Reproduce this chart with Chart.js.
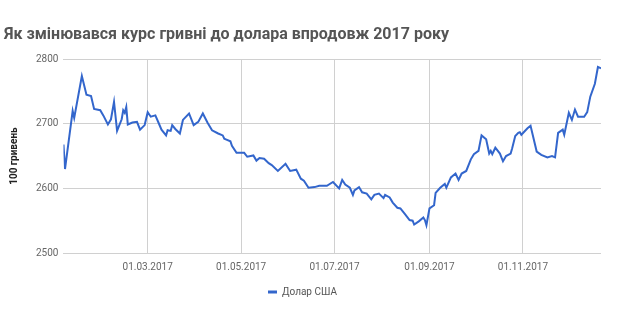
<!DOCTYPE html>
<html lang="uk">
<head>
    <meta charset="UTF-8">
    <title>Курс гривні 2017</title>
    <style>
        html, body {
            margin: 0;
            padding: 0;
            background: #fff;
        }
        .wrap {
            width: 621px;
            height: 315px;
        }
    </style>
</head>
<body>
    <div class="wrap">
        <canvas id="rateChart"></canvas>
    </div>

    <script src="https://cdn.jsdelivr.net/npm/chart.js"></script>
    <script>
        const year = 2017;

        // дати курсу (ДД.ММ) і значення за 100 доларів США
        const dates = [
            '05.01','06.01','11.01','12.01','17.01','20.01','23.01','25.01','29.01','31.01',
            '03.02','05.02','07.02','09.02','12.02','13.02','14.02','15.02','16.02','19.02',
            '22.02','24.02','27.02','01.03','03.03','06.03','08.03','10.03','13.03','14.03',
            '16.03','17.03','19.03','22.03','24.03','28.03','31.03','03.04','06.04','09.04',
            '12.04','16.04','19.04','20.04','21.04','24.04','25.04','28.04','03.05','05.05',
            '09.05','11.05','13.05','16.05','19.05','21.05','25.05','30.05','02.06','06.06',
            '09.06','11.06','14.06','18.06','21.06','26.06','30.06','04.07','06.07','08.07',
            '11.07','13.07','14.07','17.07','19.07','22.07','25.07','27.07','30.07','02.08',
            '03.08','06.08','08.08','11.08','13.08','16.08','19.08','21.08','22.08','25.08',
            '28.08','29.08','30.08','01.09','04.09','05.09','08.09','11.09','12.09','15.09',
            '18.09','20.09','22.09','25.09','28.09','30.09','03.10','05.10','08.10','10.10',
            '11.10','12.10','14.10','17.10','19.10','21.10','24.10','25.10','27.10','29.10',
            '30.10','31.10','02.11','04.11','06.11','10.11','13.11','17.11','20.11','22.11',
            '24.11','27.11','28.11','01.12','03.12','05.12','07.12','11.12','13.12','15.12',
            '18.12','20.12','22.12'
        ];
        const usdRate = [
            2668,2630,2720,2709,2774,2745,2743,2723,2721,2713,
            2699,2707,2734,2689,2707,2721,2717,2726,2699,2702,
            2703,2691,2698,2718,2711,2713,2702,2691,2682,2690,
            2689,2698,2692,2685,2706,2716,2698,2703,2716,2702,
            2690,2685,2682,2677,2676,2673,2666,2655,2655,2649,
            2651,2643,2647,2646,2639,2636,2627,2638,2627,2629,
            2615,2612,2601,2602,2604,2604,2610,2600,2613,2606,
            2601,2590,2597,2602,2594,2592,2583,2590,2592,2585,
            2590,2586,2578,2570,2569,2560,2551,2550,2544,2549,
            2555,2551,2543,2569,2574,2593,2601,2607,2601,2617,
            2623,2613,2623,2627,2645,2653,2658,2682,2676,2654,
            2658,2653,2663,2654,2642,2650,2654,2662,2681,2686,
            2687,2683,2688,2693,2697,2657,2652,2648,2650,2648,
            2686,2691,2683,2717,2706,2722,2711,2711,2718,2742,
            2762,2788,2786
        ];
        const xTickLabels = ['01.03.2017', '01.05.2017', '01.07.2017', '01.09.2017', '01.11.2017'];
        const yTicks = [2500, 2600, 2700, 2800];

        // номер дня в році з рядка "ДД.ММ"
        function dayOfYear(s) {
            const [d, m] = s.split('.').map(Number);
            return (Date.UTC(year, m - 1, d) - Date.UTC(year, 0, 1)) / 864e5;
        }

        function dayLabel(n) {
            const dt = new Date(Date.UTC(year, 0, 1) + n * 864e5);
            const dd = String(dt.getUTCDate()).padStart(2, '0');
            const mm = String(dt.getUTCMonth() + 1).padStart(2, '0');
            return dd + '.' + mm + '.' + dt.getUTCFullYear();
        }

        const points = dates.map((s, i) => ({ x: dayOfYear(s), y: usdRate[i] }));
        const xTickDays = xTickLabels.map(dayOfYear);

        Chart.defaults.font.family = 'Roboto, "Noto Sans", sans-serif';

        const ctx = document.getElementById('rateChart').getContext('2d');
        const rateChart = new Chart(ctx, {
            type: 'line',
            data: {
                datasets: [{
                    label: 'Долар США',
                    data: points,
                    borderColor: '#3366cc',
                    backgroundColor: '#3366cc',
                    borderWidth: 2,
                    pointRadius: 0,
                    tension: 0,
                    fill: false
                }]
            },
            options: {
                responsive: true,
                maintainAspectRatio: false,
                animation: false,
                layout: {
                    padding: { left: 4, right: 20, top: 0, bottom: 8 }
                },
                scales: {
                    x: {
                        type: 'linear',
                        min: points[0].x,
                        max: points[points.length - 1].x,
                        afterBuildTicks: axis => {
                            axis.ticks = xTickDays.map(v => ({ value: v }));
                        },
                        ticks: {
                            callback: v => dayLabel(v),
                            color: '#666',
                            font: { size: 10 },
                            padding: 8,
                            maxRotation: 0,
                            autoSkip: false
                        },
                        grid: {
                            color: '#d0d0d0',
                            drawTicks: false
                        },
                        border: { display: false }
                    },
                    y: {
                        min: yTicks[0],
                        max: yTicks[yTicks.length - 1],
                        afterBuildTicks: axis => {
                            axis.ticks = yTicks.map(v => ({ value: v }));
                        },
                        ticks: {
                            callback: v => String(v),
                            color: '#666',
                            font: { size: 10 },
                            padding: 5
                        },
                        grid: {
                            color: '#d0d0d0',
                            drawTicks: false
                        },
                        border: { display: false },
                        title: {
                            display: true,
                            text: '100 гривень',
                            color: '#222',
                            font: { size: 10, weight: 'bold' },
                            padding: { top: 4, bottom: 11 }
                        }
                    }
                },
                plugins: {
                    title: {
                        display: true,
                        text: 'Як змінювався курс гривні до долара впродовж 2017 року',
                        align: 'start',
                        color: '#555',
                        font: { size: 16, weight: 'bold' },
                        padding: { top: 25, bottom: 15 }
                    },
                    legend: {
                        position: 'bottom',
                        labels: {
                            boxWidth: 9,
                            boxHeight: 3,
                            color: '#555',
                            font: { size: 10 },
                            padding: 6,
                            generateLabels: chart =>
                                Chart.defaults.plugins.legend.labels.generateLabels(chart)
                                    .map(l => ({ ...l, lineWidth: 0 }))
                        }
                    },
                    tooltip: { enabled: false }
                }
            }
        });
    </script>
</body>
</html>
